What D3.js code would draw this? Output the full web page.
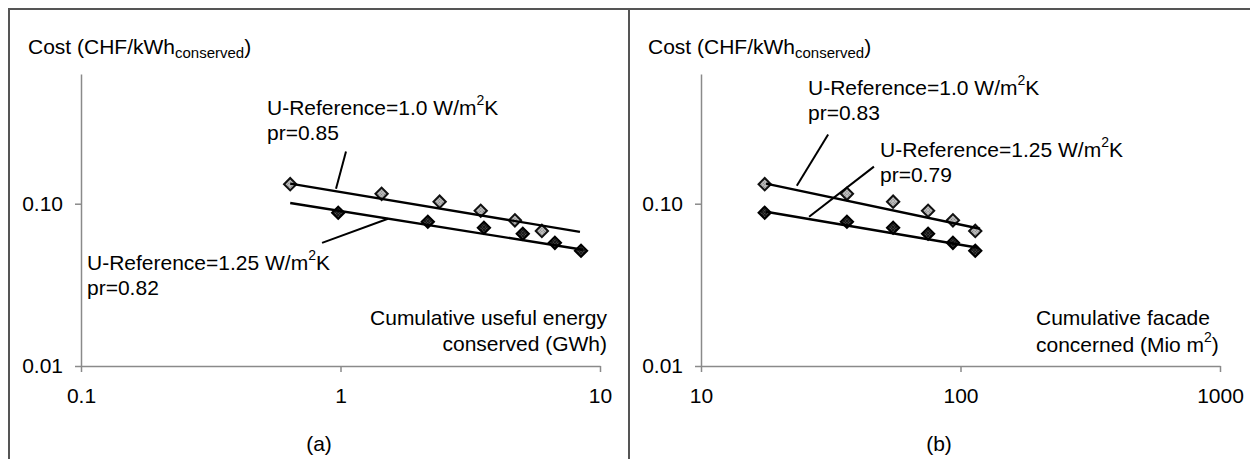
<!DOCTYPE html>
<html>
<head>
<meta charset="utf-8">
<script src="https://cdn.jsdelivr.net/npm/d3@7"></script>
<style>
  body { margin: 0; background: #fff; }
  svg { display: block; font-family: "Liberation Sans", Arial, sans-serif; }
</style>
</head>
<body>
<svg id="chart" width="1250" height="459"></svg>
<script>
// cost per period (CHF/kWh conserved), same costs in both panels
const costLight = [0.132, 0.115, 0.103, 0.0905, 0.079, 0.068];     // U-Reference=1.0
const costDark  = [0.088, 0.0774, 0.0711, 0.0653, 0.0574, 0.0513]; // U-Reference=1.25

// (a) cumulative useful energy conserved (GWh)
const energyLight = [0.64, 1.44, 2.41, 3.47, 4.70, 5.97];
const energyDark  = [0.98, 2.17, 3.57, 5.04, 6.70, 8.45];

// (b) cumulative facade concerned (Mio m2)
const facadeLight = [17.6, 36.5, 55, 75, 93.5, 114];
const facadeDark  = [17.6, 36.5, 55, 75, 93.5, 114];

// fitted experience curves, [x, cost] end points
const fitA1 = [[0.64, 0.133], [8.37, 0.0671]];
const fitA2 = [[0.64, 0.101], [8.6, 0.052]];
const fitB1 = [[17.8, 0.133], [118.9, 0.0701]];
const fitB2 = [[17.8, 0.0893], [116.8, 0.0535]];

// label leader lines, [x, cost] end points
const leadA1 = [[1.05, 0.2095], [0.961, 0.1238]];
const leadA2 = [[1.524, 0.0808], [0.849, 0.0574]];
const leadB1 = [[30.9, 0.2667], [23.4, 0.1292]];
const leadB2 = [[46.4, 0.1692], [26.1, 0.0832]];

// axes
const xTicksA = [0.1, 1, 10];
const xTicksB = [10, 100, 1000];
const yTicks = [0.01, 0.1];
const yTop = 0.63;

const FS = 21;
const svg = d3.select("#chart");

// dithered marker fills
const defs = svg.append("defs");
function dither(id, base, dot) {
  const p = defs.append("pattern").attr("id", id)
    .attr("width", 2).attr("height", 2).attr("patternUnits", "userSpaceOnUse");
  p.append("rect").attr("width", 2).attr("height", 2).attr("fill", base);
  p.append("rect").attr("width", 1).attr("height", 1).attr("fill", dot);
}
dither("fillLight", "#c0c0c0", "#777");
dither("fillDark", "#151515", "#606060");

// frame
svg.append("line").attr("x1", 8).attr("x2", 1250).attr("y1", 9).attr("y2", 9)
  .attr("stroke", "#555").attr("stroke-width", 2);
svg.append("line").attr("x1", 9).attr("x2", 9).attr("y1", 8).attr("y2", 459)
  .attr("stroke", "#555").attr("stroke-width", 2);
svg.append("line").attr("x1", 629).attr("x2", 629).attr("y1", 8).attr("y2", 459)
  .attr("stroke", "#555").attr("stroke-width", 2);

// text with sub/superscripts
function richText(g, x, y, parts, anchor) {
  const t = g.append("text").attr("x", x).attr("y", y)
    .attr("text-anchor", anchor || "start").attr("font-size", FS).attr("fill", "#000");
  let shift = 0;
  parts.forEach(p => {
    const want = p.sup ? -10 : p.sub ? 4 : 0;
    t.append("tspan")
      .attr("dy", want - shift)
      .attr("font-size", p.sup ? 14 : p.sub ? 15 : FS)
      .text(p.t);
    shift = want;
  });
  return t;
}

function drawPanel(cfg) {
  const g = svg.append("g").attr("transform", `translate(${cfg.left},0)`);
  const x = d3.scaleLog().domain(cfg.xDomain).range([72, 591]);
  const y = d3.scaleLog().domain([0.01, yTop]).range([366, 74]);

  const xAxis = g.append("g").attr("transform", "translate(0,366)")
    .call(d3.axisBottom(x).tickValues(cfg.xTicks).tickFormat(d => String(d))
      .tickSize(6).tickSizeOuter(0).tickPadding(16));
  const yAxis = g.append("g").attr("transform", "translate(72,0)")
    .call(d3.axisLeft(y).tickValues(yTicks).tickFormat(d => d.toFixed(2))
      .tickSize(6).tickSizeOuter(0).tickPadding(12));
  [xAxis, yAxis].forEach(a => {
    a.attr("font-family", null).attr("font-size", FS);
    a.selectAll("path, line").attr("stroke", "#8a8a8a").attr("stroke-width", 1.5);
    a.selectAll("text").attr("fill", "#000");
  });

  const diamond = d3.symbol().type(d3.symbolSquare).size(76);
  const series = [
    { xs: cfg.xLight, ys: costLight, fill: "url(#fillLight)", stroke: "#111" },
    { xs: cfg.xDark, ys: costDark, fill: "url(#fillDark)", stroke: "#000" }
  ];
  series.forEach(s => {
    g.append("g").selectAll("path")
      .data(s.xs.map((v, i) => [v, s.ys[i]]))
      .join("path")
      .attr("d", diamond)
      .attr("transform", d => `translate(${x(d[0])},${y(d[1])}) rotate(45)`)
      .attr("fill", s.fill)
      .attr("stroke", s.stroke)
      .attr("stroke-width", 2);
  });

  const line = d3.line().x(d => x(d[0])).y(d => y(d[1]));
  cfg.fits.forEach(f => {
    g.append("path").attr("d", line(f)).attr("fill", "none")
      .attr("stroke", "#000").attr("stroke-width", 2.4);
  });
  cfg.leads.forEach(f => {
    g.append("path").attr("d", line(f)).attr("fill", "none")
      .attr("stroke", "#000").attr("stroke-width", 2);
  });

  // y-axis title
  richText(g, 19, 54, [{ t: "Cost (CHF/kWh" }, { t: "conserved", sub: true }, { t: ")" }]);

  cfg.labels.forEach(l => richText(g, l.x, l.y, l.parts, l.anchor));
}

const uRef1 = [{ t: "U-Reference=1.0 W/m" }, { t: "2", sup: true }, { t: "K" }];
const uRef2 = [{ t: "U-Reference=1.25 W/m" }, { t: "2", sup: true }, { t: "K" }];

drawPanel({
  left: 9,
  xDomain: [0.1, 10],
  xTicks: xTicksA,
  xLight: energyLight,
  xDark: energyDark,
  fits: [fitA1, fitA2],
  leads: [leadA1, leadA2],
  labels: [
    { x: 258, y: 115, parts: uRef1 },
    { x: 258, y: 140, parts: [{ t: "pr=0.85" }] },
    { x: 78, y: 270, parts: uRef2 },
    { x: 78, y: 295, parts: [{ t: "pr=0.82" }] },
    { x: 598, y: 325, parts: [{ t: "Cumulative useful energy" }], anchor: "end" },
    { x: 598, y: 351, parts: [{ t: "conserved (GWh)" }], anchor: "end" },
    { x: 310, y: 451, parts: [{ t: "(a)" }], anchor: "middle" }
  ]
});

drawPanel({
  left: 629,
  xDomain: [10, 1000],
  xTicks: xTicksB,
  xLight: facadeLight,
  xDark: facadeDark,
  fits: [fitB1, fitB2],
  leads: [leadB1, leadB2],
  labels: [
    { x: 179, y: 95, parts: uRef1 },
    { x: 179, y: 120, parts: [{ t: "pr=0.83" }] },
    { x: 251, y: 157, parts: uRef2 },
    { x: 251, y: 182, parts: [{ t: "pr=0.79" }] },
    { x: 407, y: 325, parts: [{ t: "Cumulative facade" }] },
    { x: 407, y: 352, parts: [{ t: "concerned (Mio m" }, { t: "2", sup: true }, { t: ")" }] },
    { x: 310, y: 451, parts: [{ t: "(b)" }], anchor: "middle" }
  ]
});
</script>
</body>
</html>
